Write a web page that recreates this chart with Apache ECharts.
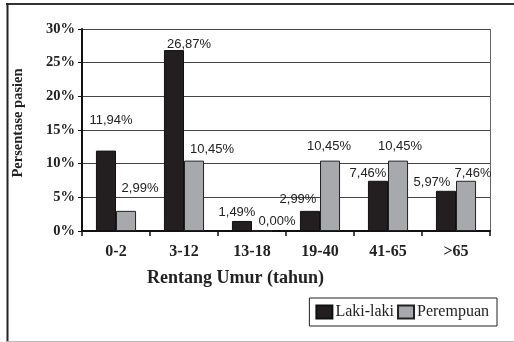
<!DOCTYPE html>
<html>
<head>
<meta charset="utf-8">
<style>html,body{margin:0;padding:0;background:#fff}#c{width:514px;height:342px}</style>
<script src="https://cdn.jsdelivr.net/npm/echarts@6/dist/echarts.min.js"></script>
</head>
<body>
<div id="c"></div>
<script>
var categories = ['0-2', '3-12', '13-18', '19-40', '41-65', '>65'];
var lakiLaki = [11.94, 26.87, 1.49, 2.99, 7.46, 5.97];
var perempuan = [2.99, 10.45, 0.00, 10.45, 10.45, 7.46];
var yTicks = [0, 5, 10, 15, 20, 25, 30];
var seriesNames = ['Laki-laki', 'Perempuan'];
var xTitle = 'Rentang Umur (tahun)';
var yTitle = 'Persentase pasien';

// label nudges (styling only)
var offMale = [[5, -19], [15, 6], [-5, 3], [-12, 0], [-10, 4], [-14, 3]];
var offFemale = [[14, -11], [18, 0], [15, 2], [-1, -3], [2, -3], [7, 4]];

function fmt(v) { return v.toFixed(2).replace('.', ',') + '%'; }
function build(vals, offs) {
  return vals.map(function (v, i) {
    return { value: v, label: { offset: offs[i] } };
  });
}

var chart = echarts.init(document.getElementById('c'));
var serif = '"Liberation Serif", "DejaVu Serif", serif';
chart.setOption({
  animation: false,
  grid: { left: 82, right: 24, top: 29, bottom: 111, containLabel: false },
  xAxis: {
    type: 'category',
    data: categories,
    axisLine: { lineStyle: { color: '#111', width: 2 } },
    axisTick: { show: true, length: 5, lineStyle: { color: '#111', width: 1.5 }, alignWithLabel: false },
    axisLabel: { fontFamily: serif, fontWeight: 'bold', fontSize: 16, color: '#222', margin: 13 }
  },
  yAxis: {
    type: 'value',
    min: 0, max: 30, interval: 5,
    name: yTitle,
    nameLocation: 'middle',
    nameGap: 56,
    nameTextStyle: { fontFamily: serif, fontWeight: 'bold', fontSize: 14.5, color: '#222', padding: [0, 0, 0, 14] },
    axisLine: { show: true, lineStyle: { color: '#111', width: 2 } },
    axisTick: { show: true, length: 4, lineStyle: { color: '#111' } },
    axisLabel: {
      fontFamily: serif, fontWeight: 'bold', fontSize: 14.5, color: '#222', margin: 7,
      formatter: function (v) { return yTicks.indexOf(v) >= 0 ? v + '%' : ''; }
    },
    splitLine: { lineStyle: { color: '#444', width: 1 } }
  },
  legend: {
    data: seriesNames,
    right: 17, top: 298,
    orient: 'horizontal',
    borderColor: '#222', borderWidth: 1,
    padding: [6, 8, 6, 6],
    itemGap: 3,
    itemWidth: 16, itemHeight: 13,
    textStyle: { fontFamily: serif, fontSize: 16, color: '#222', padding: [0, 0, 0, -2] },
    icon: 'rect'
  },
  graphic: [
    { type: 'text', left: 147, top: 269, style: { text: xTitle, font: 'bold 18px ' + serif, fill: '#222' } },
    { type: 'line', shape: { x1: 6, y1: 4, x2: 514, y2: 4 }, style: { stroke: '#333', lineWidth: 2 } },
    { type: 'line', shape: { x1: 7.5, y1: 3, x2: 7.5, y2: 342 }, style: { stroke: '#222', lineWidth: 2 } },
    { type: 'line', shape: { x1: 7, y1: 341.5, x2: 514, y2: 341.5 }, style: { stroke: '#bbb', lineWidth: 1 } },
    { type: 'line', shape: { x1: 490.5, y1: 29, x2: 490.5, y2: 231 }, style: { stroke: '#666', lineWidth: 1 } }
  ],
  series: [
    {
      name: seriesNames[0], type: 'bar', data: build(lakiLaki, offMale),
      barGap: '0%', barCategoryGap: '41%',
      itemStyle: { color: '#231f20', borderColor: '#111', borderWidth: 1 },
      label: { show: true, position: 'top', distance: 5, fontFamily: '"Liberation Sans", Arial, sans-serif', fontSize: 13, color: '#222',
        formatter: function (p) { return fmt(p.value); } }
    },
    {
      name: seriesNames[1], type: 'bar', data: build(perempuan, offFemale),
      barGap: '0%', barCategoryGap: '41%',
      itemStyle: { color: '#a7a9ac', borderColor: '#222', borderWidth: 1 },
      label: { show: true, position: 'top', distance: 5, fontFamily: '"Liberation Sans", Arial, sans-serif', fontSize: 13, color: '#222',
        formatter: function (p) { return fmt(p.value); } }
    }
  ]
});
</script>
</body>
</html>
